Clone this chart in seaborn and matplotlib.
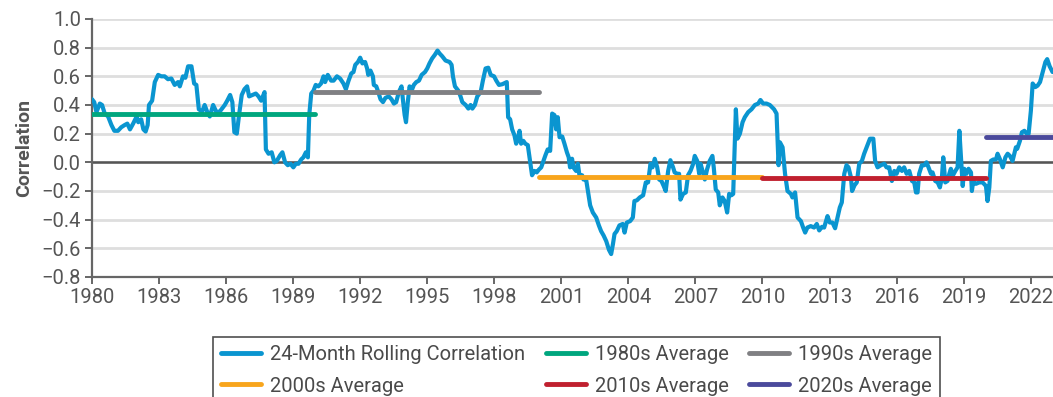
import numpy as np
import pandas as pd
import matplotlib
matplotlib.use("Agg")
import matplotlib.pyplot as plt
import seaborn as sns

# 24-month rolling correlation (decimal year, value)
period = [
    1980.00, 1980.10, 1980.20, 1980.35, 1980.45, 1980.57, 1980.72, 1980.87,
    1981.00, 1981.16, 1981.31, 1981.46, 1981.58, 1981.70, 1981.84, 1982.00,
    1982.07, 1982.20, 1982.30, 1982.40, 1982.49, 1982.55, 1982.69, 1982.81,
    1982.96, 1983.10, 1983.25, 1983.40, 1983.55, 1983.70, 1983.85, 1983.93,
    1984.07, 1984.18, 1984.30, 1984.45, 1984.57, 1984.67, 1984.78, 1984.93,
    1985.04, 1985.16, 1985.27, 1985.42, 1985.57, 1985.72, 1985.94, 1986.05,
    1986.18, 1986.28, 1986.37, 1986.48, 1986.58, 1986.70, 1986.82, 1986.94,
    1987.03, 1987.18, 1987.33, 1987.45, 1987.57, 1987.67, 1987.72, 1987.78,
    1987.90, 1988.04, 1988.16, 1988.27, 1988.42, 1988.52, 1988.64, 1988.76,
    1988.88, 1989.01, 1989.12, 1989.24, 1989.36, 1989.46, 1989.57, 1989.66,
    1989.72, 1989.81, 1989.91, 1990.01, 1990.13, 1990.25, 1990.36, 1990.43,
    1990.55, 1990.70, 1990.81, 1990.96, 1991.10, 1991.25, 1991.36, 1991.48,
    1991.60, 1991.70, 1991.78, 1991.90, 1992.00, 1992.10, 1992.22, 1992.31,
    1992.36, 1992.46, 1992.57, 1992.61, 1992.72, 1992.81, 1992.91, 1993.02,
    1993.13, 1993.28, 1993.40, 1993.51, 1993.61, 1993.73, 1993.85, 1993.91,
    1993.99, 1994.05, 1994.13, 1994.21, 1994.30, 1994.40, 1994.51, 1994.63,
    1994.75, 1994.90, 1995.00, 1995.10, 1995.22, 1995.34, 1995.46, 1995.55,
    1995.67, 1995.82, 1996.00, 1996.09, 1996.15, 1996.24, 1996.39, 1996.49,
    1996.57, 1996.72, 1996.84, 1996.94, 1997.02, 1997.13, 1997.24, 1997.39,
    1997.49, 1997.61, 1997.73, 1997.84, 1997.99, 1998.09, 1998.21, 1998.36,
    1998.56, 1998.62, 1998.71, 1998.80, 1998.90, 1998.98, 1999.05, 1999.13,
    1999.20, 1999.30, 1999.39, 1999.50, 1999.60, 1999.69, 1999.80, 1999.90,
    2000.00, 2000.10, 2000.20, 2000.29, 2000.39, 2000.50, 2000.59, 2000.69,
    2000.77, 2000.84, 2000.92, 2001.04, 2001.14, 2001.25, 2001.33, 2001.39,
    2001.48, 2001.54, 2001.66, 2001.74, 2001.81, 2001.93, 2001.99, 2002.11,
    2002.19, 2002.29, 2002.41, 2002.56, 2002.68, 2002.78, 2002.89, 2003.01,
    2003.13, 2003.23, 2003.31, 2003.38, 2003.48, 2003.60, 2003.75, 2003.83,
    2003.93, 2004.08, 2004.20, 2004.27, 2004.38, 2004.51, 2004.66, 2004.78,
    2004.88, 2004.99, 2005.08, 2005.18, 2005.29, 2005.38, 2005.48, 2005.58,
    2005.67, 2005.78, 2005.88, 2006.00, 2006.07, 2006.18, 2006.27, 2006.33,
    2006.45, 2006.57, 2006.67, 2006.78, 2006.90, 2006.97, 2007.08, 2007.17,
    2007.23, 2007.32, 2007.42, 2007.52, 2007.64, 2007.76, 2007.82, 2007.91,
    2008.02, 2008.09, 2008.21, 2008.31, 2008.42, 2008.51, 2008.61, 2008.69,
    2008.76, 2008.81, 2008.88, 2008.99, 2009.11, 2009.21, 2009.36, 2009.51,
    2009.66, 2009.81, 2009.91, 2010.03, 2010.18, 2010.33, 2010.52, 2010.63,
    2010.72, 2010.78, 2010.90, 2011.01, 2011.12, 2011.27, 2011.34, 2011.46,
    2011.57, 2011.72, 2011.82, 2011.91, 2012.01, 2012.16, 2012.31, 2012.43,
    2012.54, 2012.66, 2012.76, 2012.91, 2013.01, 2013.13, 2013.25, 2013.36,
    2013.46, 2013.55, 2013.66, 2013.76, 2013.85, 2013.96, 2014.01, 2014.12,
    2014.22, 2014.33, 2014.45, 2014.55, 2014.70, 2014.81, 2014.96, 2015.04,
    2015.15, 2015.30, 2015.45, 2015.55, 2015.67, 2015.79, 2015.90, 2016.00,
    2016.12, 2016.24, 2016.34, 2016.45, 2016.57, 2016.69, 2016.79, 2016.87,
    2016.94, 2017.01, 2017.13, 2017.24, 2017.34, 2017.43, 2017.54, 2017.61,
    2017.73, 2017.84, 2017.94, 2018.03, 2018.09, 2018.18, 2018.28, 2018.36,
    2018.43, 2018.51, 2018.63, 2018.73, 2018.81, 2018.88, 2018.96, 2019.03,
    2019.13, 2019.22, 2019.33, 2019.37, 2019.43, 2019.55, 2019.70, 2019.85,
    2020.00, 2020.07, 2020.15, 2020.22, 2020.33, 2020.45, 2020.52, 2020.63,
    2020.75, 2020.87, 2020.97, 2021.07, 2021.19, 2021.34, 2021.40, 2021.52,
    2021.61, 2021.72, 2021.82, 2021.91, 2022.01, 2022.09, 2022.21, 2022.31,
    2022.42, 2022.54, 2022.66, 2022.74, 2022.85, 2022.98,
]
rolling_corr = [
    0.44, 0.42, 0.35, 0.41, 0.40, 0.34, 0.32, 0.26,
    0.22, 0.22, 0.245, 0.26, 0.27, 0.23, 0.27, 0.32,
    0.28, 0.30, 0.23, 0.215, 0.26, 0.40, 0.43, 0.56,
    0.61, 0.60, 0.60, 0.58, 0.585, 0.54, 0.56, 0.53,
    0.60, 0.59, 0.67, 0.67, 0.55, 0.54, 0.37, 0.355,
    0.40, 0.35, 0.32, 0.40, 0.35, 0.355, 0.40, 0.43,
    0.47, 0.42, 0.21, 0.20, 0.33, 0.47, 0.51, 0.53,
    0.46, 0.47, 0.48, 0.46, 0.43, 0.47, 0.49, 0.09,
    0.06, 0.07, 0.00, 0.01, 0.05, 0.07, 0.00, -0.02,
    -0.01, -0.035, -0.01, -0.01, 0.02, 0.035, 0.07, 0.035,
    0.33, 0.48, 0.50, 0.54, 0.53, 0.55, 0.60, 0.56,
    0.61, 0.57, 0.57, 0.60, 0.585, 0.55, 0.51, 0.57,
    0.62, 0.63, 0.68, 0.70, 0.73, 0.69, 0.70, 0.655,
    0.61, 0.64, 0.60, 0.54, 0.53, 0.49, 0.44, 0.42,
    0.45, 0.46, 0.44, 0.41, 0.42, 0.49, 0.53, 0.44,
    0.33, 0.28, 0.42, 0.53, 0.50, 0.54, 0.56, 0.57,
    0.61, 0.63, 0.655, 0.69, 0.725, 0.75, 0.78, 0.76,
    0.74, 0.71, 0.70, 0.68, 0.60, 0.53, 0.50, 0.46,
    0.42, 0.40, 0.375, 0.40, 0.375, 0.40, 0.46, 0.49,
    0.57, 0.655, 0.66, 0.61, 0.60, 0.57, 0.54, 0.545,
    0.56, 0.315, 0.30, 0.23, 0.19, 0.13, 0.16, 0.22,
    0.13, 0.15, 0.13, 0.12, 0.01, -0.09, -0.06, -0.07,
    -0.05, -0.035, 0.01, 0.05, 0.09, 0.08, 0.34, 0.33,
    0.23, 0.315, 0.175, 0.18, 0.13, 0.07, 0.035, -0.035,
    0.025, -0.035, -0.06, -0.01, -0.09, -0.09, -0.12, -0.12,
    -0.20, -0.30, -0.35, -0.385, -0.44, -0.48, -0.51, -0.55,
    -0.61, -0.64, -0.57, -0.50, -0.48, -0.44, -0.43, -0.49,
    -0.42, -0.41, -0.385, -0.27, -0.265, -0.245, -0.23, -0.14,
    -0.14, -0.01, -0.035, 0.025, -0.035, -0.12, -0.13, -0.165,
    -0.20, -0.06, 0.015, -0.035, -0.07, -0.08, -0.08, -0.26,
    -0.22, -0.21, -0.09, -0.06, -0.01, 0.045, 0.01, -0.08,
    -0.01, -0.06, -0.12, -0.05, 0.01, 0.045, -0.035, -0.19,
    -0.21, -0.30, -0.245, -0.27, -0.35, -0.22, -0.23, -0.22,
    0.13, 0.37, 0.165, 0.20, 0.28, 0.315, 0.35, 0.37,
    0.40, 0.41, 0.435, 0.41, 0.41, 0.40, 0.37, 0.34,
    -0.02, 0.14, 0.105, -0.08, -0.20, -0.22, -0.245, -0.21,
    -0.385, -0.41, -0.455, -0.49, -0.455, -0.445, -0.455, -0.43,
    -0.475, -0.45, -0.455, -0.375, -0.42, -0.42, -0.46, -0.385,
    -0.315, -0.28, -0.08, -0.02, -0.035, -0.105, -0.20, -0.16,
    -0.14, -0.01, 0.01, 0.06, 0.12, 0.165, 0.165, 0.01,
    -0.035, -0.02, -0.01, -0.035, -0.035, -0.13, -0.06, -0.08,
    -0.035, -0.06, -0.035, -0.08, -0.06, -0.13, -0.14, -0.21,
    -0.21, -0.08, -0.02, -0.02, 0.00, -0.035, -0.08, -0.07,
    -0.13, -0.14, -0.175, -0.105, 0.035, -0.14, -0.13, -0.08,
    -0.045, -0.095, -0.06, -0.035, 0.22, 0.035, -0.165, -0.045,
    -0.08, -0.045, -0.07, -0.20, -0.13, -0.15, -0.14, -0.14,
    -0.165, -0.27, -0.175, 0.01, 0.02, 0.02, 0.06, 0.02,
    -0.035, 0.035, 0.06, 0.045, 0.01, 0.105, 0.095, 0.15,
    0.21, 0.22, 0.20, 0.20, 0.36, 0.55, 0.525, 0.535,
    0.56, 0.63, 0.70, 0.72, 0.67, 0.63,
]

# Decade averages
decade_labels = ["1980s Average", "1990s Average", "2000s Average",
                 "2010s Average", "2020s Average"]
decade_start = [1980, 1990, 2000, 2010, 2020]
decade_end = [1990, 2000, 2010, 2020, 2023]
decade_avg = [0.335, 0.49, -0.10, -0.11, 0.18]

series_label = "24-Month Rolling Correlation"
year_ticks = list(range(1980, 2023, 3))
corr_ticks = [-0.8, -0.6, -0.4, -0.2, 0.0, 0.2, 0.4, 0.6, 0.8, 1.0]

line_color = "#0a95d0"
decade_colors = ["#00a67e", "#808083", "#f8a51c", "#c0202f", "#4b4a9c"]

sns.set_theme(style="white")
plt.rcParams["font.family"] = ["Roboto", "DejaVu Sans"]
plt.rcParams["axes.unicode_minus"] = True

fig = plt.figure(figsize=(10.53, 3.97), dpi=100)
ax = fig.add_axes([92 / 1053, 120 / 397, 961 / 1053, 258 / 397])

# horizontal grid and zero line
for t in corr_ticks:
    ax.axhline(t, color="#dedede", lw=2.0, zorder=0)
ax.axhline(0.0, color="#555555", lw=1.8, zorder=1)

corr_df = pd.DataFrame({"year": period, "corr": rolling_corr})
sns.lineplot(data=corr_df, x="year", y="corr", ax=ax, color=line_color,
             lw=3.0, label=series_label, zorder=3, estimator=None, sort=False)

for lab, s, e, v, c in zip(decade_labels, decade_start, decade_end,
                           decade_avg, decade_colors):
    seg = pd.DataFrame({"year": [s, e], "corr": [v, v]})
    sns.lineplot(data=seg, x="year", y="corr", ax=ax, color=c, lw=3.5,
                 label=lab, zorder=4, estimator=None)

ax.set_xlim(1980, 2023.0)
ax.set_ylim(-0.8, 1.0)
ax.set_xticks(year_ticks)
ax.set_xticklabels([str(y) for y in year_ticks])
ax.set_yticks(corr_ticks)
ax.set_yticklabels([f"{t:.1f}".replace("-", "\u2212") for t in corr_ticks])
ax.set_xlabel("")
ax.set_ylabel("Correlation", fontsize=14, fontweight="bold", color="#555555",
              labelpad=6)

for side in ["top", "right"]:
    ax.spines[side].set_visible(False)
for side in ["left", "bottom"]:
    ax.spines[side].set_color("#666666")
    ax.spines[side].set_linewidth(1.6)
ax.tick_params(axis="both", which="major", direction="out", length=5,
               width=1.4, color="#666666", labelsize=14.5, labelcolor="#555555",
               pad=3, left=True, bottom=True)
ax.grid(False)

handles, labels = ax.get_legend_handles_labels()
ax.get_legend().remove()
order = [series_label, "2000s Average", "1980s Average",
         "2010s Average", "1990s Average", "2020s Average"]
hmap = dict(zip(labels, handles))
leg = fig.legend([hmap[k] for k in order], order, loc="upper left",
                 bbox_to_anchor=(213 / 1053, 1 - 337 / 397), ncol=3,
                 frameon=True, fancybox=False, fontsize=14.5,
                 handlelength=2.0, handletextpad=0.45, columnspacing=1.0,
                 labelspacing=0.62, borderpad=0.4, borderaxespad=0)
leg.get_frame().set_edgecolor("#222222")
leg.get_frame().set_linewidth(1.2)
for t in leg.get_texts():
    t.set_color("#4a4a4a")
for h in leg.legend_handles:
    h.set_linewidth(3.5)

fig.savefig("out.png", dpi=100)
